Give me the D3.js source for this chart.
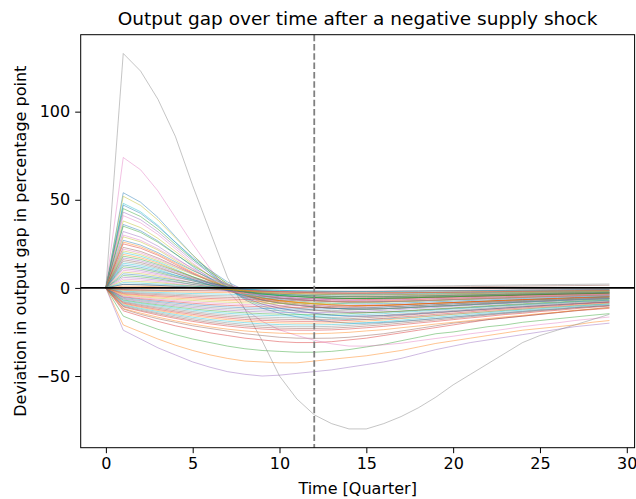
<!DOCTYPE html>
<html lang="en">
<head>
<meta charset="UTF-8">
<title>Output gap after a negative supply shock</title>
<style>
  body{margin:0;background:#fff;font-family:'DejaVu Sans',sans-serif}
  svg{display:block}
  .axis text{font-size:16px;fill:#000;font-family:'DejaVu Sans',sans-serif}
  .axis path{display:none}
  .axis line{stroke:#000;stroke-width:1}
  .title{font-size:18.5px}
  .lab{font-size:16px}
  .irf{fill:none;stroke-width:1;opacity:.45}
</style>
</head>
<body>
<div id="chart"></div>
<script src="https://d3js.org/d3.v7.min.js"></script>
<script>
/* quarters after the shock */
const quarters=[0,1,2,3,4,5,6,7,8,9,10,11,12,13,14,15,16,17,18,19,20,21,22,23,24,25,26,27,28,29];
const xTicks=[0,5,10,15,20,25,30];
const yTicks=[-50,0,50,100];
const markQuarter=12;

/* simulated paths (percentage points) */
const pos54=[0,54,48.6,40,29.2,18.7,9.1,.2,-6.7,-11.5,-14.4,-16.4,-18,-19.2,-20,-20,-19.6,-19,-18.2,-17.4,-16.6,-15.8,-15,-14.2,-13.4,-12.6,-12,-11.2,-10.6,-10];
const deepOrange=[0,-21,-25,-29,-32.5,-35.5,-38,-40,-41.5,-42,-42.5,-42.5,-41.5,-40.5,-39.5,-38.5,-37,-35.5,-33.5,-31.5,-30,-28.5,-27,-25.5,-24,-23,-22,-21,-19.5,-18.5];
const deep36=[0,-16,-20,-23.5,-26.5,-29,-31,-33,-34.5,-35.5,-36,-36.5,-36.5,-36,-35,-33.5,-32,-30,-28,-26,-25,-23.5,-22,-21,-19.5,-18.5,-17.5,-16.5,-15.5,-14.6];
const deep31=[0,-13,-16,-19,-21.5,-23.5,-25.5,-27,-28.5,-29.5,-30.5,-31,-31,-30.5,-29.5,-28.5,-27,-25.5,-24,-22.5,-21,-19.5,-18,-17,-16,-15,-14,-13,-12.3,-11.6];
const deepPurple=[0,-24,-29,-34,-38,-42,-45,-47.5,-49,-50,-49.5,-48.5,-47.5,-46.5,-45,-43.5,-42,-40,-37.5,-35,-33,-31,-29.5,-28,-26.5,-25,-23.5,-22,-21,-20];
const deep29=[0,-12,-15,-17.5,-19.5,-21.5,-23,-24.5,-26,-27,-28,-28.5,-28.6,-28.5,-28,-27,-26,-24.5,-23,-21.5,-20,-19,-18,-17,-16,-15,-14,-13,-12,-11];
const pos74=[0,74,67,55,40,25,11,-1.6,-12,-19,-23.8,-27,-29.7,-31.7,-33,-33,-32.3,-31.4,-30,-28.7,-27.4,-26,-24.8,-23.4,-22,-20.8,-19.8,-18.5,-17.5,-16.5];
const pos133=[0,133,123,107,86,58,32,6,-12,-30,-50,-63,-72,-77,-80,-80,-77,-73,-68,-62,-55,-49,-43,-37,-31,-27,-24,-21,-18,-15];
const pos52=[0,52,46.8,38.5,28.4,18.6,9.9,2,-4,-7.9,-10.1,-11.5,-12.6,-13.4,-14,-14,-13.7,-13.3,-12.7,-12.2,-11.6,-11.1,-10.5,-9.9,-9.4,-8.8,-8.4,-7.8,-7.4,-7];
const pos48=[0,48,43.2,35.5,26,16.5,8,.1,-6.1,-10.3,-13,-14.8,-16.2,-17.3,-18,-18,-17.6,-17.1,-16.4,-15.7,-14.9,-14.2,-13.5,-12.8,-12.1,-11.3,-10.8,-10.1,-9.5,-9];
const pos47=[0,47,42.3,34.8,25.9,17.3,10,3.4,-1.4,-4.3,-5.8,-6.6,-7.2,-7.7,-8,-8,-7.8,-7.6,-7.3,-7,-6.6,-6.3,-6,-5.7,-5.4,-5,-4.8,-4.5,-4.2,-4];
const neg26=[0,-11.7,-14.3,-16.6,-18.7,-20.5,-22.1,-23.4,-24.4,-25.2,-25.7,-26,-26,-25.7,-25.2,-24.4,-23.7,-22.6,-21.6,-20.5,-19.5,-18.5,-17.4,-16.4,-15.6,-14.6,-13.8,-12.7,-12,-11.2];
const pos45=[0,45,40.5,33.3,24.7,16.4,9.1,2.5,-2.4,-5.6,-7.2,-8.2,-9,-9.6,-10,-10,-9.8,-9.5,-9.1,-8.7,-8.3,-7.9,-7.5,-7.1,-6.7,-6.3,-6,-5.6,-5.3,-5];
const neg24=[0,-10.8,-13.2,-15.4,-17.3,-19,-20.4,-21.6,-22.6,-23.3,-23.8,-24,-24,-23.8,-23.3,-22.6,-21.8,-20.9,-19.9,-19,-18,-17,-16.1,-15.1,-14.4,-13.4,-12.7,-11.8,-11,-10.3];
const pos43=[0,43,38.7,31.8,23.5,15.4,8.2,1.5,-3.4,-6.8,-8.6,-9.8,-10.8,-11.5,-12,-12,-11.8,-11.4,-10.9,-10.4,-10,-9.5,-9,-8.5,-8,-7.6,-7.2,-6.7,-6.4,-6];
const neg23=[0,-10.4,-12.7,-14.7,-16.6,-18.2,-19.6,-20.7,-21.6,-22.3,-22.8,-23,-23,-22.8,-22.3,-21.6,-20.9,-20,-19.1,-18.2,-17.3,-16.3,-15.4,-14.5,-13.8,-12.9,-12.2,-11.3,-10.6,-9.9];
const pos41=[0,41,36.9,30.3,22.2,14.1,6.8,-.1,-5.4,-9.2,-11.5,-13.1,-14.4,-15.4,-16,-16,-15.7,-15.2,-14.6,-13.9,-13.3,-12.6,-12,-11.4,-10.7,-10.1,-9.6,-9,-8.5,-8];
const neg22=[0,-9.9,-12.1,-14.1,-15.8,-17.4,-18.7,-19.8,-20.7,-21.3,-21.8,-22,-22,-21.8,-21.3,-20.7,-20,-19.1,-18.3,-17.4,-16.5,-15.6,-14.7,-13.9,-13.2,-12.3,-11.7,-10.8,-10.1,-9.5];
const pos38=[0,38,34.2,28.1,20.7,13.4,6.9,.8,-3.7,-6.8,-8.6,-9.8,-10.8,-11.5,-12,-12,-11.8,-11.4,-10.9,-10.4,-10,-9.5,-9,-8.5,-8,-7.6,-7.2,-6.7,-6.4,-6];
const neg21=[0,-9.5,-11.6,-13.4,-15.1,-16.6,-17.9,-18.9,-19.7,-20.4,-20.8,-21,-21,-20.8,-20.4,-19.7,-19.1,-18.3,-17.4,-16.6,-15.8,-14.9,-14.1,-13.2,-12.6,-11.8,-11.1,-10.3,-9.7,-9];
const pos36=[0,36,32.4,26.6,19.4,12.1,5.5,-.7,-5.7,-9.2,-11.5,-13.1,-14.4,-15.4,-16,-16,-15.7,-15.2,-14.6,-13.9,-13.3,-12.6,-12,-11.4,-10.7,-10.1,-9.6,-9,-8.5,-8];
const neg20=[0,-9,-11,-12.8,-14.4,-15.8,-17,-18,-18.8,-19.4,-19.8,-20,-20,-19.8,-19.4,-18.8,-18.2,-17.4,-16.6,-15.8,-15,-14.2,-13.4,-12.6,-12,-11.2,-10.6,-9.8,-9.2,-8.6];
const pos35=[0,35,31.5,25.9,19.2,12.7,7,1.9,-2,-4.5,-5.8,-6.6,-7.2,-7.7,-8,-8,-7.8,-7.6,-7.3,-7,-6.6,-6.3,-6,-5.7,-5.4,-5,-4.8,-4.5,-4.2,-4];
const neg19=[0,-8.6,-10.5,-12.2,-13.7,-15,-16.2,-17.1,-17.9,-18.4,-18.8,-19,-19,-18.8,-18.4,-17.9,-17.3,-16.5,-15.8,-15,-14.3,-13.5,-12.7,-12,-11.4,-10.6,-10.1,-9.3,-8.7,-8.2];
const pos32=[0,32,28.8,23.7,17.2,10.8,4.9,-.6,-5,-8.1,-10.1,-11.5,-12.6,-13.4,-14,-14,-13.7,-13.3,-12.7,-12.2,-11.6,-11.1,-10.5,-9.9,-9.4,-8.8,-8.4,-7.8,-7.4,-7];
const neg18=[0,-8.1,-9.9,-11.5,-13,-14.2,-15.3,-16.2,-16.9,-17.5,-17.8,-18,-18,-17.8,-17.5,-16.9,-16.4,-15.7,-14.9,-14.2,-13.5,-12.8,-12.1,-11.3,-10.8,-10.1,-9.5,-8.8,-8.3,-7.7];
const pos30=[0,30,27,22.2,16.5,11.1,6.4,2.2,-.9,-2.7,-3.6,-4.1,-4.5,-4.8,-5,-5,-4.9,-4.8,-4.6,-4.4,-4.2,-4,-3.8,-3.6,-3.4,-3.2,-3,-2.8,-2.7,-2.5];
const neg17=[0,-7.7,-9.4,-10.9,-12.2,-13.4,-14.5,-15.3,-16,-16.5,-16.8,-17,-17,-16.8,-16.5,-16,-15.5,-14.8,-14.1,-13.4,-12.8,-12.1,-11.4,-10.7,-10.2,-9.5,-9,-8.3,-7.8,-7.3];
const pos29=[0,29,26.1,21.5,15.7,10.1,5.1,.4,-3.2,-5.7,-7.2,-8.2,-9,-9.6,-10,-10,-9.8,-9.5,-9.1,-8.7,-8.3,-7.9,-7.5,-7.1,-6.7,-6.3,-6,-5.6,-5.3,-5];
const neg16=[0,-7.2,-8.8,-10.2,-11.5,-12.6,-13.6,-14.4,-15,-15.5,-15.8,-16,-16,-15.8,-15.5,-15,-14.6,-13.9,-13.3,-12.6,-12,-11.4,-10.7,-10.1,-9.6,-9,-8.5,-7.8,-7.4,-6.9];
const pos27=[0,27,24.3,20,14.8,9.8,5.5,1.5,-1.4,-3.3,-4.3,-4.9,-5.4,-5.8,-6,-6,-5.9,-5.7,-5.5,-5.2,-5,-4.7,-4.5,-4.3,-4,-3.8,-3.6,-3.4,-3.2,-3];
const pos26=[0,26,23.4,19.2,14.1,8.9,4.3,0,-3.4,-5.7,-7.2,-8.2,-9,-9.6,-10,-10,-9.8,-9.5,-9.1,-8.7,-8.3,-7.9,-7.5,-7.1,-6.7,-6.3,-6,-5.6,-5.3,-5];
const neg15=[0,-6.8,-8.3,-9.6,-10.8,-11.9,-12.8,-13.5,-14.1,-14.6,-14.9,-15,-15,-14.9,-14.6,-14.1,-13.7,-13.1,-12.5,-11.9,-11.3,-10.7,-10.1,-9.5,-9,-8.4,-8,-7.4,-6.9,-6.5];
const pos25=[0,25,22.5,18.5,13.4,8.4,3.7,-.8,-4.3,-7,-8.6,-9.8,-10.8,-11.5,-12,-12,-11.8,-11.4,-10.9,-10.4,-10,-9.5,-9,-8.5,-8,-7.6,-7.2,-6.7,-6.4,-6];
const neg14=[0,-6.3,-7.7,-9,-10.1,-11.1,-11.9,-12.6,-13.2,-13.6,-13.9,-14,-14,-13.9,-13.6,-13.2,-12.7,-12.2,-11.6,-11.1,-10.5,-9.9,-9.4,-8.8,-8.4,-7.8,-7.4,-6.9,-6.4,-6];
const pos23=[0,23,20.7,17,12.5,8,4,.3,-2.6,-4.6,-5.8,-6.6,-7.2,-7.7,-8,-8,-7.8,-7.6,-7.3,-7,-6.6,-6.3,-6,-5.7,-5.4,-5,-4.8,-4.5,-4.2,-4];
const pos22=[0,22,19.8,16.3,12.1,8.1,4.6,1.5,-.8,-2.2,-2.9,-3.3,-3.6,-3.8,-4,-4,-3.9,-3.8,-3.6,-3.5,-3.3,-3.2,-3,-2.8,-2.7,-2.5,-2.4,-2.2,-2.1,-2];
const neg13=[0,-5.9,-7.2,-8.3,-9.4,-10.3,-11.1,-11.7,-12.2,-12.6,-12.9,-13,-13,-12.9,-12.6,-12.2,-11.8,-11.3,-10.8,-10.3,-9.8,-9.2,-8.7,-8.2,-7.8,-7.3,-6.9,-6.4,-6,-5.6];
const pos21=[0,21,18.9,15.5,11.5,7.6,4.2,1,-1.3,-2.8,-3.6,-4.1,-4.5,-4.8,-5,-5,-4.9,-4.8,-4.6,-4.4,-4.2,-4,-3.8,-3.6,-3.4,-3.2,-3,-2.8,-2.7,-2.5];
const pos20=[0,20,18,14.8,10.6,6.4,2.4,-1.5,-4.6,-7,-8.6,-9.8,-10.8,-11.5,-12,-12,-11.8,-11.4,-10.9,-10.4,-10,-9.5,-9,-8.5,-8,-7.6,-7.2,-6.7,-6.4,-6];
const neg12=[0,-5.4,-6.6,-7.7,-8.6,-9.5,-10.2,-10.8,-11.3,-11.6,-11.9,-12,-12,-11.9,-11.6,-11.3,-10.9,-10.4,-10,-9.5,-9,-8.5,-8,-7.6,-7.2,-6.7,-6.4,-5.9,-5.5,-5.2];
const pos19=[0,19,17.1,14.1,10.1,6.2,2.6,-.9,-3.7,-5.8,-7.2,-8.2,-9,-9.6,-10,-10,-9.8,-9.5,-9.1,-8.7,-8.3,-7.9,-7.5,-7.1,-6.7,-6.3,-6,-5.6,-5.3,-5];
const pos18=[0,18,16.2,13.3,9.8,6.3,3.2,.3,-1.9,-3.4,-4.3,-4.9,-5.4,-5.8,-6,-6,-5.9,-5.7,-5.5,-5.2,-5,-4.7,-4.5,-4.3,-4,-3.8,-3.6,-3.4,-3.2,-3];
const neg11=[0,-5,-6.1,-7,-7.9,-8.7,-9.4,-9.9,-10.3,-10.7,-10.9,-11,-11,-10.9,-10.7,-10.3,-10,-9.6,-9.1,-8.7,-8.3,-7.8,-7.4,-6.9,-6.6,-6.2,-5.8,-5.4,-5.1,-4.7];
const pos17=[0,17,15.3,12.6,9.1,5.8,2.8,-.2,-2.4,-4,-5,-5.7,-6.3,-6.7,-7,-7,-6.9,-6.7,-6.4,-6.1,-5.8,-5.5,-5.3,-5,-4.7,-4.4,-4.2,-3.9,-3.7,-3.5];
const pos16=[0,16,14.4,11.8,8.4,4.9,1.6,-1.6,-4.4,-6.4,-7.9,-9,-9.9,-10.6,-11,-11,-10.8,-10.5,-10,-9.6,-9.1,-8.7,-8.3,-7.8,-7.4,-6.9,-6.6,-6.2,-5.8,-5.5];
const neg10=[0,-4.5,-5.5,-6.4,-7.2,-7.9,-8.5,-9,-9.4,-9.7,-9.9,-10,-10,-9.9,-9.7,-9.4,-9.1,-8.7,-8.3,-7.9,-7.5,-7.1,-6.7,-6.3,-6,-5.6,-5.3,-4.9,-4.6,-4.3];
const pos15=[0,15,13.5,11.1,8.2,5.4,2.9,.6,-1.1,-2.3,-2.9,-3.3,-3.6,-3.8,-4,-4,-3.9,-3.8,-3.6,-3.5,-3.3,-3.2,-3,-2.8,-2.7,-2.5,-2.4,-2.2,-2.1,-2];
const neg9=[0,-4.1,-5,-5.8,-6.5,-7.1,-7.7,-8.1,-8.5,-8.7,-8.9,-9,-9,-8.9,-8.7,-8.5,-8.2,-7.8,-7.5,-7.1,-6.8,-6.4,-6,-5.7,-5.4,-5,-4.8,-4.4,-4.1,-3.9];
const pos14=[0,14,12.6,10.4,7.3,4.4,1.5,-1.3,-3.5,-5.3,-6.5,-7.4,-8.1,-8.6,-9,-9,-8.8,-8.6,-8.2,-7.8,-7.5,-7.1,-6.8,-6.4,-6,-5.7,-5.4,-5,-4.8,-4.5];
const pos13=[0,13,11.7,9.6,7.1,4.7,2.6,.7,-.7,-1.7,-2.2,-2.5,-2.7,-2.9,-3,-3,-2.9,-2.9,-2.7,-2.6,-2.5,-2.4,-2.3,-2.1,-2,-1.9,-1.8,-1.7,-1.6,-1.5];
const neg8=[0,-3.6,-4.4,-5.1,-5.8,-6.3,-6.8,-7.2,-7.5,-7.8,-7.9,-8,-8,-7.9,-7.8,-7.5,-7.3,-7,-6.6,-6.3,-6,-5.7,-5.4,-5,-4.8,-4.5,-4.2,-3.9,-3.7,-3.4];
const pos12=[0,12,10.8,8.9,6.4,4,1.7,-.4,-2.2,-3.5,-4.3,-4.9,-5.4,-5.8,-6,-6,-5.9,-5.7,-5.5,-5.2,-5,-4.7,-4.5,-4.3,-4,-3.8,-3.6,-3.4,-3.2,-3];
const neg7=[0,-3.2,-3.9,-4.5,-5,-5.5,-6,-6.3,-6.6,-6.8,-6.9,-7,-7,-6.9,-6.8,-6.6,-6.4,-6.1,-5.8,-5.5,-5.3,-5,-4.7,-4.4,-4.2,-3.9,-3.7,-3.4,-3.2,-3];
const pos11=[0,11,9.9,8.1,6,3.9,2.1,.4,-.8,-1.7,-2.2,-2.5,-2.7,-2.9,-3,-3,-2.9,-2.9,-2.7,-2.6,-2.5,-2.4,-2.3,-2.1,-2,-1.9,-1.8,-1.7,-1.6,-1.5];
const neg6=[0,-2.7,-3.3,-3.8,-4.3,-4.7,-5.1,-5.4,-5.6,-5.8,-5.9,-6,-6,-5.9,-5.8,-5.6,-5.5,-5.2,-5,-4.7,-4.5,-4.3,-4,-3.8,-3.6,-3.4,-3.2,-2.9,-2.8,-2.6];
const pos10=[0,10,9,7.4,5.2,2.9,.7,-1.4,-3.3,-4.7,-5.8,-6.6,-7.2,-7.7,-8,-8,-7.8,-7.6,-7.3,-7,-6.6,-6.3,-6,-5.7,-5.4,-5,-4.8,-4.5,-4.2,-4];
const neg5=[0,-2.3,-2.8,-3.2,-3.6,-4,-4.3,-4.5,-4.7,-4.9,-5,-5,-5,-5,-4.9,-4.7,-4.6,-4.4,-4.2,-4,-3.8,-3.6,-3.4,-3.2,-3,-2.8,-2.7,-2.5,-2.3,-2.2];
const pos9=[0,9,8.1,6.7,4.7,2.9,1.2,-.5,-1.9,-2.9,-3.6,-4.1,-4.5,-4.8,-5,-5,-4.9,-4.8,-4.6,-4.4,-4.2,-4,-3.8,-3.6,-3.4,-3.2,-3,-2.8,-2.7,-2.5];
const neg4=[0,-1.8,-2.2,-2.6,-2.9,-3.2,-3.4,-3.6,-3.8,-3.9,-4,-4,-4,-4,-3.9,-3.8,-3.6,-3.5,-3.3,-3.2,-3,-2.8,-2.7,-2.5,-2.4,-2.2,-2.1,-2,-1.8,-1.7];
const pos8=[0,8,7.2,5.9,4.4,2.9,1.6,.3,-.5,-1.2,-1.4,-1.6,-1.8,-1.9,-2,-2,-2,-1.9,-1.8,-1.7,-1.7,-1.6,-1.5,-1.4,-1.3,-1.3,-1.2,-1.1,-1.1,-1];
const neg3=[0,-1.4,-1.7,-1.9,-2.2,-2.4,-2.6,-2.7,-2.8,-2.9,-3,-3,-3,-3,-2.9,-2.8,-2.7,-2.6,-2.5,-2.4,-2.3,-2.1,-2,-1.9,-1.8,-1.7,-1.6,-1.5,-1.4,-1.3];
const pos7=[0,7,6.3,5.2,3.6,2,.5,-1.1,-2.4,-3.5,-4.3,-4.9,-5.4,-5.8,-6,-6,-5.9,-5.7,-5.5,-5.2,-5,-4.7,-4.5,-4.3,-4,-3.8,-3.6,-3.4,-3.2,-3];
const neg2=[0,-.9,-1.1,-1.3,-1.4,-1.6,-1.7,-1.8,-1.9,-1.9,-2,-2,-2,-2,-1.9,-1.9,-1.8,-1.7,-1.7,-1.6,-1.5,-1.4,-1.3,-1.3,-1.2,-1.1,-1.1,-1,-.9,-.9];
const pos6=[0,6,5.4,4.4,3.2,1.9,.8,-.2,-1.1,-1.7,-2.2,-2.5,-2.7,-2.9,-3,-3,-2.9,-2.9,-2.7,-2.6,-2.5,-2.4,-2.3,-2.1,-2,-1.9,-1.8,-1.7,-1.6,-1.5];
const nearZeroUp=[0,2,1.8,1.4,1,.6,.3,0,-.2,-.3,-.3,-.3,-.2,-.1,0,.1,.2,.3,.4,.5,.6,.7,.8,.9,1,1.1,1.2,1.3,1.4,1.5];
const pos5=[0,5,4.5,3.7,2.4,1.2,-.2,-1.7,-3,-4.2,-5,-5.7,-6.3,-6.7,-7,-7,-6.9,-6.7,-6.4,-6.1,-5.8,-5.5,-5.3,-5,-4.7,-4.4,-4.2,-3.9,-3.7,-3.5];
const nearZeroDown=[0,-1,-1.3,-1.4,-1.4,-1.3,-1.2,-1,-.8,-.6,-.4,-.2,0,.2,.4,.5,.7,.8,1,1.1,1.2,1.4,1.5,1.6,1.7,1.8,1.9,2,2.1,2.2];
const pos4=[0,4,3.6,3,2,1.1,.1,-.9,-1.7,-2.4,-2.9,-3.3,-3.6,-3.8,-4,-4,-3.9,-3.8,-3.6,-3.5,-3.3,-3.2,-3,-2.8,-2.7,-2.5,-2.4,-2.2,-2.1,-2];
const pos3=[0,3,2.7,2.2,1.6,1,.4,-.3,-.7,-1.2,-1.4,-1.6,-1.8,-1.9,-2,-2,-2,-1.9,-1.8,-1.7,-1.7,-1.6,-1.5,-1.4,-1.3,-1.3,-1.2,-1.1,-1.1,-1];
const pos2=[0,2,1.8,1.5,.8,.2,-.6,-1.4,-2.3,-3,-3.6,-4.1,-4.5,-4.8,-5,-5,-4.9,-4.8,-4.6,-4.4,-4.2,-4,-3.8,-3.6,-3.4,-3.2,-3,-2.8,-2.7,-2.5];
const pos1=[0,1,.9,.7,.4,0,-.4,-.9,-1.4,-1.8,-2.2,-2.5,-2.7,-2.9,-3,-3,-2.9,-2.9,-2.7,-2.6,-2.5,-2.4,-2.3,-2.1,-2,-1.9,-1.8,-1.7,-1.6,-1.5];

/* plotting order = colour cycle order */
const paths=[pos54,deepOrange,deep36,deep31,deepPurple,deep29,pos74,pos133,pos52,pos48,
  pos47,neg26,pos45,neg24,pos43,neg23,pos41,neg22,pos38,neg21,
  pos36,neg20,pos35,neg19,pos32,neg18,pos30,neg17,pos29,neg16,
  pos27,pos26,neg15,pos25,neg14,pos23,pos22,neg13,pos21,pos20,
  neg12,pos19,pos18,neg11,pos17,pos16,neg10,pos15,neg9,pos14,
  pos13,neg8,pos12,neg7,pos11,neg6,pos10,neg5,pos9,neg4,
  pos8,neg3,pos7,neg2,pos6,nearZeroUp,pos5,nearZeroDown,pos4,pos3,
  pos2,pos1];

const W=636,H=499,
      margin={top:34.7,right:1.4,bottom:51.3,left:80.7},
      width=W-margin.left-margin.right,
      height=H-margin.top-margin.bottom;

const svg=d3.select("#chart").append("svg").attr("width",W).attr("height",H);
const g=svg.append("g").attr("transform",`translate(${margin.left},${margin.top})`);

// matplotlib style 5% padding
const xPad=(d3.max(quarters)-d3.min(quarters))*0.05;
const x=d3.scaleLinear().domain([d3.min(quarters)-xPad,d3.max(quarters)+xPad]).range([0,width]);
const lo=d3.min(paths,p=>d3.min(p)), hi=d3.max(paths,p=>d3.max(p)), yPad=(hi-lo)*0.05;
const y=d3.scaleLinear().domain([lo-yPad,hi+yPad]).range([height,0]);

const colors=d3.schemeCategory10;
const line=d3.line().x((d,i)=>x(quarters[i])).y(d=>y(d));

g.append("g").selectAll("path").data(paths).join("path")
  .attr("class","irf")
  .attr("stroke",(d,i)=>colors[i%10])
  .attr("d",line);

g.append("line").attr("x1",0).attr("x2",width).attr("y1",y(0)).attr("y2",y(0))
  .attr("stroke","#000").attr("stroke-width",1.8);
g.append("line").attr("x1",x(markQuarter)).attr("x2",x(markQuarter)).attr("y1",0).attr("y2",height)
  .attr("stroke","#808080").attr("stroke-width",1.8).attr("stroke-dasharray","6.5,2.8");

g.append("g").attr("class","axis").attr("transform",`translate(0,${height})`)
  .call(d3.axisBottom(x).tickValues(xTicks).tickSize(5.5).tickPadding(4.5));
g.append("g").attr("class","axis")
  .call(d3.axisLeft(y).tickValues(yTicks).tickSize(5.5).tickPadding(5).tickFormat(d=>d<0?"\u2212"+Math.abs(d):d));

g.append("rect").attr("width",width).attr("height",height)
  .attr("fill","none").attr("stroke","#000").attr("stroke-width",1);

svg.append("text").attr("class","title").attr("x",margin.left+width/2).attr("y",25)
  .attr("text-anchor","middle").text("Output gap over time after a negative supply shock");
svg.append("text").attr("class","lab").attr("x",margin.left+width/2).attr("y",494)
  .attr("text-anchor","middle").text("Time [Quarter]");
svg.append("text").attr("class","lab")
  .attr("transform",`translate(26,${margin.top+height/2}) rotate(-90)`)
  .attr("text-anchor","middle").text("Deviation in output gap in percentage point");
</script>
</body>
</html>
